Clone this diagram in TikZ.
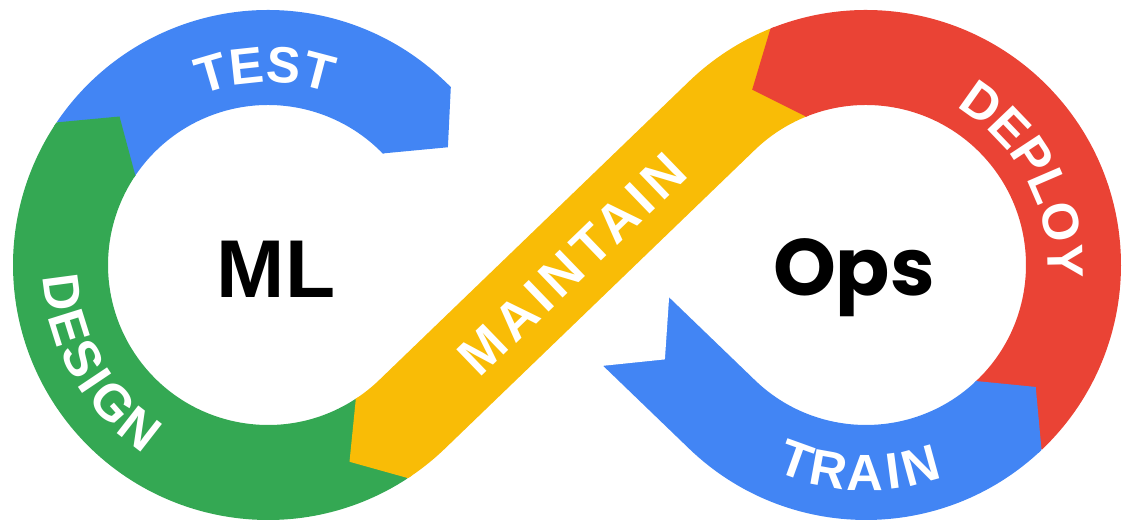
\documentclass[tikz,border=0pt]{standalone}
\usepackage{fontspec}
\setmainfont{Liberation Sans}
\newfontfamily\lblfont{Liberation Sans}
\newfontfamily\mtfont[LetterSpace=10]{Liberation Sans}
\newfontfamily\opsfont{Poppins}
\usetikzlibrary{calc}
\definecolor{gblue}{HTML}{4285F4}
\definecolor{ggreen}{HTML}{34A853}
\definecolor{gyellow}{HTML}{F9BC06}
\definecolor{gred}{HTML}{EA4335}
\begin{document}
\begin{tikzpicture}[x=1pt,y=1pt,
  band/.style={line width=95pt},
  lt/.style={text=white, inner sep=0pt, anchor=base, font=\lblfont\bfseries\fontsize{51}{51}\selectfont},
]
\useasboundingbox (0,0) rectangle (1122,529);
\coordinate (L) at (268,264);
\coordinate (Rc) at (866,264);
% band strokes
\draw[band, ggreen] ($(L)+(-56.7:207.5)$) arc[start angle=-56.7, end angle=-214, radius=207.5];
\draw[band, gblue] ($(L)+(146:207.5)$) arc[start angle=146, end angle=44.2, radius=207.5];
\draw[band, gyellow] ($(Rc)+(112:207.5)$) arc[start angle=112, end angle=133.95, radius=207.5]
   -- ($(L)+(-46.05:207.5)$) arc[start angle=-46.05, end angle=-56.7, radius=207.5];
\draw[band, gred] ($(Rc)+(-46.5:207.5)$) arc[start angle=-46.5, end angle=112, radius=207.5];
\coordinate (tail) at (636.1,197.4);
\draw[band, gblue] (tail) -- ($(Rc)+(226.05:207.5)$) arc[start angle=226.05, end angle=313.5, radius=207.5];
% arrow heads
\fill[ggreen] ($(L)+(147:255)$) -- ($(L)+(146:255)$) -- ($(L)+(135:210)$) -- ($(L)+(146:160)$) -- ($(L)+(147:160)$) -- cycle;
\fill[gblue] ($(L)+(45.2:255)$) -- ($(L)+(44.2:255)$) -- ($(L)+(33.2:215)$) -- ($(L)+(44.2:160)$) -- ($(L)+(45.2:160)$) -- cycle;
\fill[gyellow] ($(L)+(-55.7:255)$) -- ($(L)+(-56.7:255)$) -- ($(L)+(-67.5:213)$) -- ($(L)+(-56.7:160)$) -- ($(L)+(-55.7:160)$) -- cycle;
\fill[gred] ($(Rc)+(111:255)$) -- ($(Rc)+(112:255)$) -- ($(Rc)+(123:209)$) -- ($(Rc)+(112:160)$) -- ($(Rc)+(111:160)$) -- cycle;
\fill[gblue] ($(Rc)+(-47.5:255)$) -- ($(Rc)+(-46.5:255)$) -- ($(Rc)+(-35.7:209)$) -- ($(Rc)+(-46.5:160)$) -- ($(Rc)+(-47.5:160)$) -- cycle;
% tail notch of TRAIN
\fill[white] ($(tail)+(33.0,34.2)+(-0.72,0.69)$) -- ($(tail)+(33.0,34.2)$) -- ($(tail)+(28.8,-27.8)$) -- ($(tail)+(-33.0,-34.2)$) -- ($(tail)+(-33.0,-34.2)+(-0.72,0.69)$) -- cycle;
% labels on the arcs (letters tops outward)
\foreach \ch/\a [count=\i] in {T/106.35, E/96.13, S/85.47, T/75.25}
  \node[lt, rotate=\a-90] (test\i) at ($(L)+(\a:182.7)$) {\ch};
\foreach \ch/\a [count=\i] in {D/54.55, E/43.7, P/33.3, L/23.33, O/12.46, Y/1.16}
  \node[lt, rotate=\a-90] (deploy\i) at ($(Rc)+(\a:181.7)$) {\ch};
% labels on the arcs (letters tops inward)
\foreach \ch/\a [count=\i] in {D/187.6, E/197.42, S/206.88, I/213.82, G/221.49, N/232.03}
  \node[lt, rotate=\a+90] (design\i) at ($(L)+(\a:225.3)$) {\ch};
\foreach \ch/\a [count=\i] in {T/250.2, R/259.8, A/269.8, I/277.5, N/285.3}
  \node[lt, rotate=\a+90] (train\i) at ($(Rc)+(\a:225.3)$) {\ch};
\node[rotate=43.95, text=white, inner sep=0pt, font=\mtfont\bfseries\fontsize{53}{53}\selectfont] (maintain) at (572,265) {MAINTAIN};
\node[anchor=base, inner sep=0pt, font=\bfseries\fontsize{82}{82}\selectfont] (ml) at (276,231) {ML};
\node[anchor=base, inner sep=0pt, font=\opsfont\bfseries\fontsize{80}{80}\selectfont] (ops) at (854,233) {Ops};
\end{tikzpicture}
\end{document}
